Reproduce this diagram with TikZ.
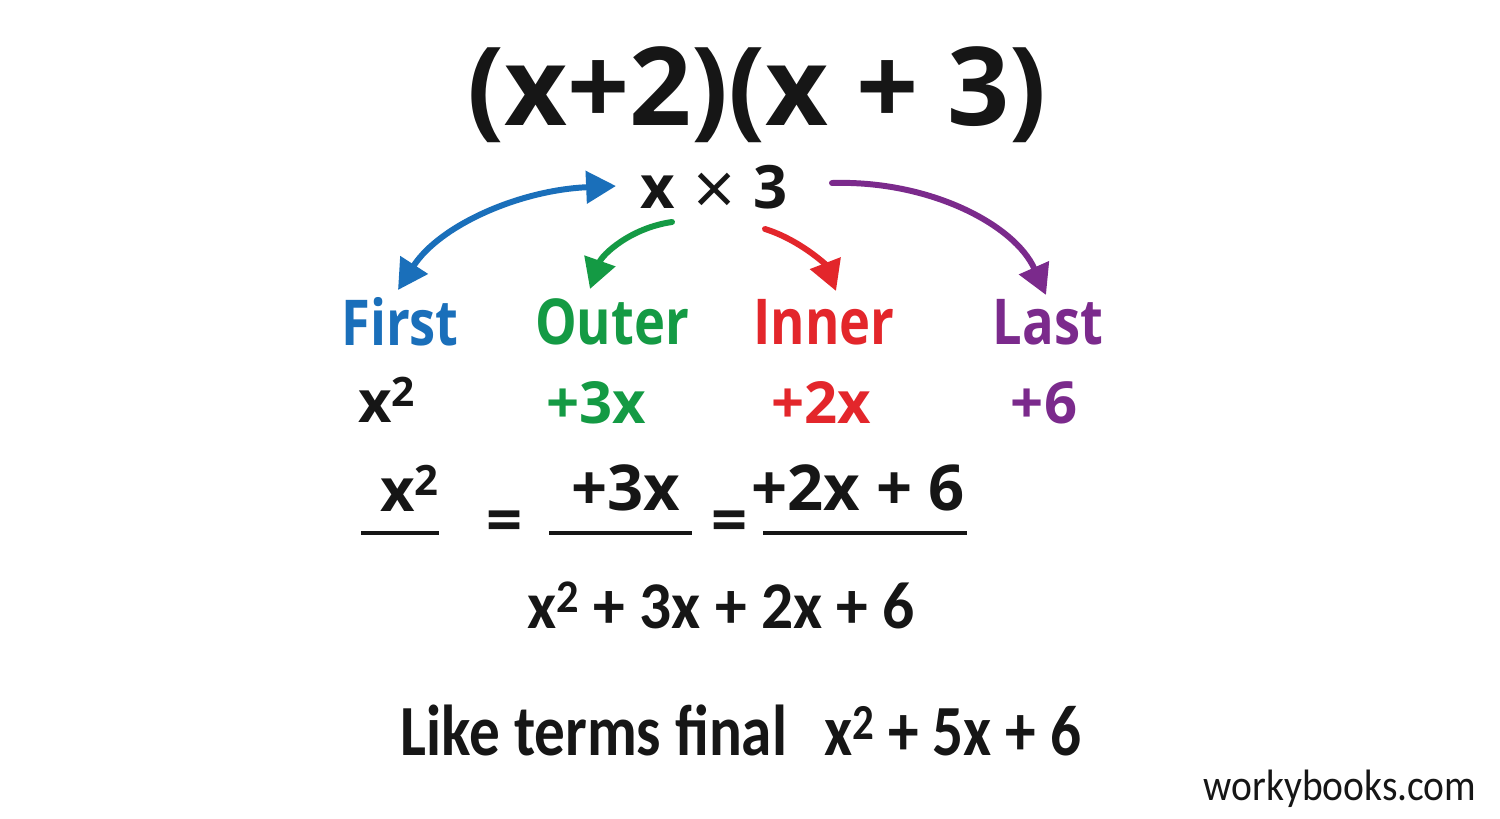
\documentclass[tikz,border=0pt]{standalone}
\usepackage{fontspec}
\setmainfont{Open Sans}
\newfontfamily\carl{Carlito}
\usetikzlibrary{arrows.meta}
\definecolor{cblue}{HTML}{1A6FBA}
\definecolor{cgreen}{HTML}{149A44}
\definecolor{cred}{HTML}{E3262B}
\definecolor{cpurple}{HTML}{7B2A8C}
\definecolor{ink}{HTML}{161616}
\tikzset{
  lbl/.style={font=\fontsize{36}{40}\selectfont\bfseries, inner sep=0pt},
  term/.style={font=\fontsize{33}{38}\selectfont\bfseries, inner sep=0pt},
  eqn/.style={font=\fontsize{36}{40}\selectfont\bfseries, text=ink, inner sep=0pt},
  arr/.style={line width=3.4pt, line cap=round, -{Triangle[length=17pt,width=18pt]}},
  rule/.style={line width=2.2pt, ink}
}
\newcommand{\sq}{\textsuperscript{2}}
\newcommand{\nar}[2]{\scalebox{#1}[1]{#2}}
\begin{document}
\begin{tikzpicture}[x=0.02cm,y=-0.02cm]
\useasboundingbox[fill=white] (0,0) rectangle (1500,818);
% title
\node[inner sep=0pt, text=ink, font=\fontsize{62}{66}\selectfont\bfseries] (title) at (757,95) {(x+2)(x + 3)};
\node[inner sep=0pt, text=ink, font=\fontsize{34}{38}\selectfont\bfseries] (xt) at (714,190) {x\hspace{0.3em}\raisebox{-4pt}{\mdseries\fontsize{42}{42}\selectfont ×}\hspace{0.3em}3};
% labels
\node[lbl, text=cblue] (first) at (400,322) {\nar{0.83}{First}};
\node[lbl, text=cgreen] (outer) at (612,322) {\nar{0.83}{Outer}};
\node[lbl, text=cred] (inner) at (824,322) {\nar{0.83}{Inner}};
\node[lbl, text=cpurple] (last) at (1048,322) {\nar{0.83}{Last}};
% terms
\node[term, text=ink] (t1) at (387,400) {x\sq};
\node[term, text=cgreen] (t2) at (596,403) {+3x};
\node[term, text=cred] (t3) at (821,403) {+2x};
\node[term, text=cpurple] (t4) at (1044,403) {+6};
% arrows
\coordinate (b1) at (398,290);
\coordinate (b2) at (616,186);
\coordinate (g1) at (672,222);
\coordinate (g2) at (590,289);
\coordinate (r1) at (765,229);
\coordinate (r2) at (836,291);
\coordinate (p1) at (832,183);
\coordinate (p2) at (1046,295);
\draw[arr, cblue, {Triangle[length=17pt,width=18pt]}-{Triangle[length=17pt,width=18pt]}] (b1) .. controls (440,225) and (520,190) .. (b2);
\draw[arr, cgreen] (g1) .. controls (630,228) and (602,255) .. (g2);
\draw[arr, cred] (r1) .. controls (800,240) and (826,265) .. (r2);
\draw[arr, cpurple] (p1) .. controls (930,180) and (1015,225) .. (p2);
% fraction row
\node[eqn, font=\fontsize{34}{40}\selectfont\bfseries] (n1) at (410,488) {x\sq};
\node[eqn] (n2) at (626,488) {+3x};
\node[eqn] (n3) at (858,488) {+2x + 6};
\node[eqn] (e1) at (505,527) {=};
\node[eqn] (e2) at (730,527) {=};
\coordinate (l1a) at (361,533); \coordinate (l1b) at (439,533);
\coordinate (l2a) at (549,533); \coordinate (l2b) at (692,533);
\coordinate (l3a) at (763,533); \coordinate (l3b) at (967,533);
\draw[rule] (l1a) -- (l1b);
\draw[rule] (l2a) -- (l2b);
\draw[rule] (l3a) -- (l3b);
% expanded
\node[inner sep=0pt, text=ink, font=\carl\fontsize{38}{42}\selectfont\bfseries] (exp) at (721,605) {\nar{0.95}{x\sq{} + 3x + 2x + 6}};
% final
\node[inner sep=0pt, text=ink, font=\carl\fontsize{41}{46}\selectfont\bfseries] (fin) at (741,730) {\nar{0.85}{Like terms final\hspace{0.6em}x\sq{} + 5x + 6}};
\node[inner sep=0pt, text=ink, font=\carl\fontsize{25}{30}\selectfont] (wb) at (1340,789) {\nar{0.9}{workybooks.com}};
\end{tikzpicture}
\end{document}
